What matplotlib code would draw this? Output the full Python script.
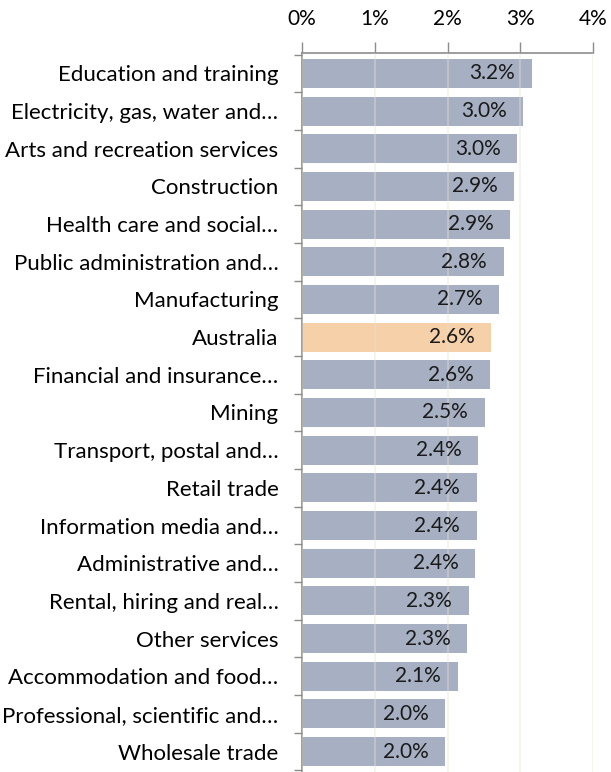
import matplotlib.pyplot as plt

plt.rcParams['font.family'] = ['Lato', 'DejaVu Sans']

# --------------------------------------
# DATA
# --------------------------------------
industries = [
    "Education and training",
    "Electricity, gas, water and\u2026",
    "Arts and recreation services",
    "Construction",
    "Health care and social\u2026",
    "Public administration and\u2026",
    "Manufacturing",
    "Australia",
    "Financial and insurance\u2026",
    "Mining",
    "Transport, postal and\u2026",
    "Retail trade",
    "Information media and\u2026",
    "Administrative and\u2026",
    "Rental, hiring and real\u2026",
    "Other services",
    "Accommodation and food\u2026",
    "Professional, scientific and\u2026",
    "Wholesale trade",
]
growth = [3.16, 3.04, 2.96, 2.92, 2.86, 2.77, 2.71, 2.60, 2.59, 2.51,
          2.42, 2.40, 2.40, 2.38, 2.29, 2.27, 2.14, 1.97, 1.97]
xticks = [0, 1, 2, 3, 4]

BAR_COLOR = "#a7b0c2"
HIGHLIGHT = "#f5d0a9"
GRID_COLOR = "#e9e2d2"
AXIS_COLOR = "#8c8c8c"
FS = 15

fig = plt.figure(figsize=(6.11, 7.72), dpi=100)
ax = fig.add_axes([302 / 611, 0.0, (593 - 302) / 611, 1 - 53 / 772])

n = len(industries)
ypos = list(range(n))
colors = [HIGHLIGHT if name == "Australia" else BAR_COLOR for name in industries]
ax.barh(ypos, growth, height=0.77, color=colors, zorder=1)

for y, v in zip(ypos, growth):
    ax.annotate(f"{v:.1f}%", xy=(v, y), xytext=(-12, 0), textcoords="offset points",
                ha="right", va="center", fontsize=FS, color="#1a1a1a", zorder=3)

ax.set_xlim(0, 4)
ax.set_ylim(n - 0.5 + 0.04, -0.5 - 0.04)
ax.set_xticks(xticks)
ax.set_xticklabels([f"{t}%" for t in xticks], fontsize=FS)
ax.xaxis.tick_top()
ax.tick_params(axis="x", direction="out", length=8, width=1, color=AXIS_COLOR, pad=9)

# category boundary ticks on the left
ax.set_yticks([y + 0.5 for y in range(-1, n)], minor=True)
ax.set_yticks(ypos)
ax.set_yticklabels(industries, fontsize=16)
ax.tick_params(axis="y", which="major", length=0, pad=17)
ax.tick_params(axis="y", which="minor", length=6, width=1, color=AXIS_COLOR)

ax.xaxis.grid(True, color=GRID_COLOR, linewidth=1.2, zorder=2, alpha=0.45)
ax.set_axisbelow(False)

for side in ["right", "bottom"]:
    ax.spines[side].set_visible(False)
ax.spines["top"].set_color(AXIS_COLOR)
ax.spines["left"].set_color(AXIS_COLOR)
ax.spines["top"].set_linewidth(1.2)
ax.spines["left"].set_linewidth(1.2)

fig.savefig("out.png", dpi=100)
